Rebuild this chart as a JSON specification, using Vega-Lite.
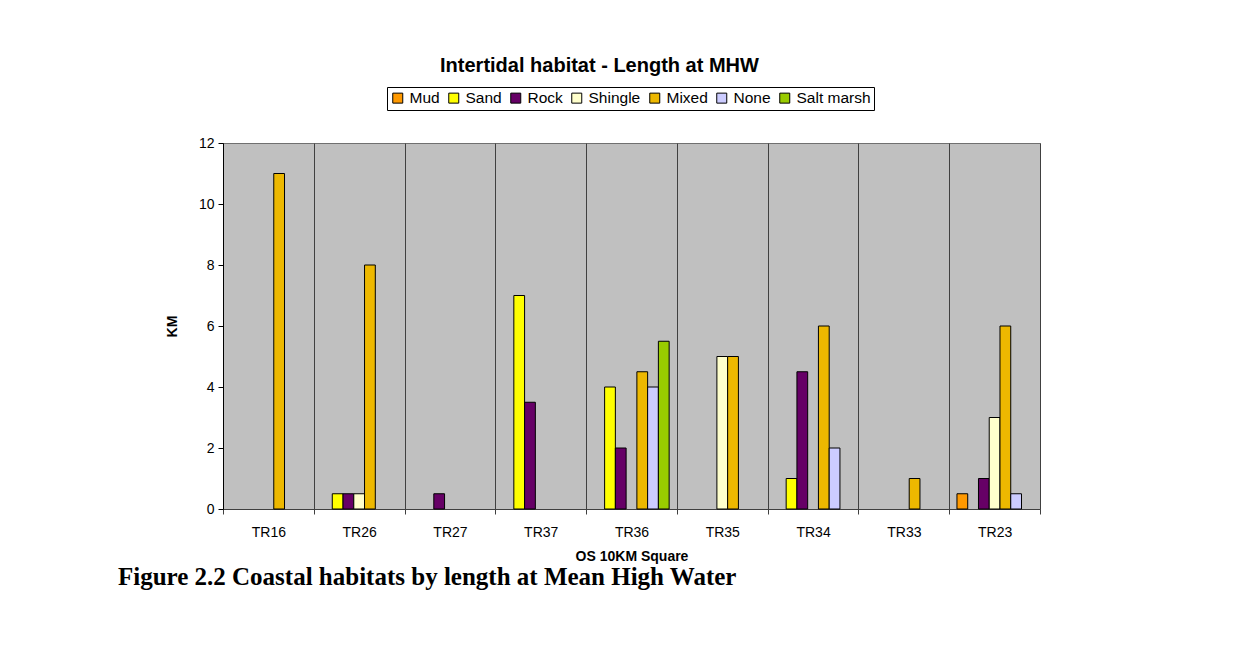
{
  "$schema": "https://vega.github.io/schema/vega-lite/v6.json",
  "padding": {"left": 117, "top": 55, "right": 0, "bottom": 0},
  "background": "white",
  "config": {
    "font": "Liberation Sans",
    "view": {"fill": "#C0C0C0", "stroke": "#707070", "strokeWidth": 1}
  },
  "title": {
    "text": "Figure 2.2 Coastal habitats by length at Mean High Water",
    "orient": "bottom",
    "anchor": "start",
    "frame": "bounds",
    "font": "Liberation Serif",
    "fontSize": 25,
    "fontWeight": "bold",
    "color": "black",
    "dx": -47,
    "offset": 1
  },
  "vconcat": [
    {
      "width": 817,
      "height": 366,
      "title": {
        "text": "Intertidal habitat - Length at MHW",
        "font": "Liberation Sans",
        "fontSize": 20,
        "fontWeight": "bold",
        "color": "black",
        "frame": "group",
        "anchor": "middle",
        "dx": -32,
        "offset": 60
      },
      "data": {
        "values": [
          {"square": "TR16", "habitat": "Mixed", "km": 11},
          {"square": "TR26", "habitat": "Sand", "km": 0.5},
          {"square": "TR26", "habitat": "Rock", "km": 0.5},
          {"square": "TR26", "habitat": "Shingle", "km": 0.5},
          {"square": "TR26", "habitat": "Mixed", "km": 8},
          {"square": "TR27", "habitat": "Rock", "km": 0.5},
          {"square": "TR37", "habitat": "Sand", "km": 7},
          {"square": "TR37", "habitat": "Rock", "km": 3.5},
          {"square": "TR36", "habitat": "Sand", "km": 4},
          {"square": "TR36", "habitat": "Rock", "km": 2},
          {"square": "TR36", "habitat": "Mixed", "km": 4.5},
          {"square": "TR36", "habitat": "None", "km": 4},
          {"square": "TR36", "habitat": "Salt marsh", "km": 5.5},
          {"square": "TR35", "habitat": "Shingle", "km": 5},
          {"square": "TR35", "habitat": "Mixed", "km": 5},
          {"square": "TR34", "habitat": "Sand", "km": 1},
          {"square": "TR34", "habitat": "Rock", "km": 4.5},
          {"square": "TR34", "habitat": "Mixed", "km": 6},
          {"square": "TR34", "habitat": "None", "km": 2},
          {"square": "TR33", "habitat": "Mixed", "km": 1},
          {"square": "TR23", "habitat": "Mud", "km": 0.5},
          {"square": "TR23", "habitat": "Rock", "km": 1},
          {"square": "TR23", "habitat": "Shingle", "km": 3},
          {"square": "TR23", "habitat": "Mixed", "km": 6},
          {"square": "TR23", "habitat": "None", "km": 0.5}
        ]
      },
      "mark": {"type": "bar", "stroke": "black", "strokeWidth": 1},
      "encoding": {
        "x": {
          "field": "square",
          "type": "nominal",
          "sort": ["TR16", "TR26", "TR27", "TR37", "TR36", "TR35", "TR34", "TR33", "TR23"],
          "scale": {"paddingInner": 0, "paddingOuter": 0},
          "axis": {
            "title": "OS 10KM Square",
            "titleFontSize": 14,
            "titleFontWeight": "bold",
            "titleColor": "black",
            "titlePadding": 10,
            "labelAngle": 0,
            "labelFontSize": 14,
            "labelColor": "black",
            "labelPadding": 11,
            "tickBand": "extent",
            "ticks": true,
            "tickSize": 5,
            "tickColor": "#404040",
            "grid": true,
            "gridColor": "#404040",
            "gridWidth": 1,
            "domainColor": "#404040"
          }
        },
        "xOffset": {
          "field": "habitat",
          "type": "nominal",
          "scale": {
            "domain": ["Mud", "Sand", "Rock", "Shingle", "Mixed", "None", "Salt marsh"],
            "paddingInner": 0,
            "paddingOuter": 0.72
          }
        },
        "y": {
          "field": "km",
          "type": "quantitative",
          "scale": {"domain": [0, 12], "nice": false},
          "axis": {
            "title": "KM",
            "titleFontSize": 14,
            "titleFontWeight": "bold",
            "titleColor": "black",
            "titlePadding": 19,
            "values": [0, 2, 4, 6, 8, 10, 12],
            "grid": false,
            "labelFontSize": 14,
            "labelColor": "black",
            "labelPadding": 4,
            "tickSize": 5,
            "tickColor": "black",
            "domainColor": "black"
          }
        },
        "color": {
          "field": "habitat",
          "type": "nominal",
          "scale": {
            "domain": ["Mud", "Sand", "Rock", "Shingle", "Mixed", "None", "Salt marsh"],
            "range": ["#FF9900", "#FFFF00", "#660066", "#FFFFCC", "#EDB800", "#CCCCFF", "#99CC00"]
          },
          "legend": {
            "orient": "none",
            "legendX": 164,
            "legendY": -56,
            "direction": "horizontal",
            "title": null,
            "strokeColor": "black",
            "fillColor": "white",
            "padding": 3,
            "symbolType": "square",
            "symbolSize": 100,
            "symbolStrokeColor": "black",
            "symbolStrokeWidth": 1,
            "symbolOpacity": 1,
            "labelFontSize": 15.5,
            "labelColor": "black",
            "labelOffset": 4,
            "columnPadding": 6
          }
        }
      }
    }
  ]
}
